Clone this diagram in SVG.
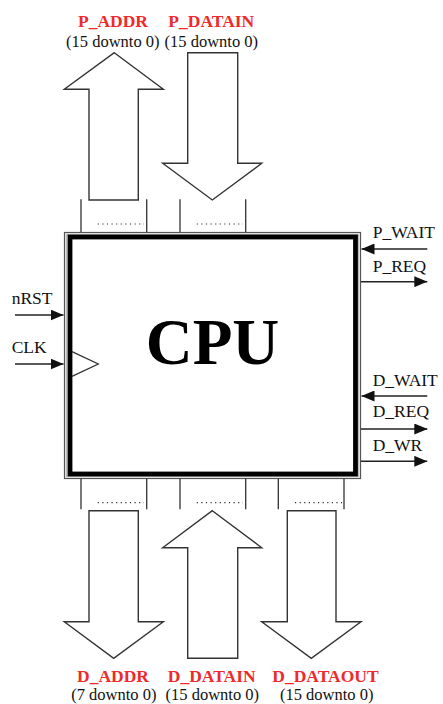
<svg xmlns="http://www.w3.org/2000/svg" width="443" height="704" viewBox="0 0 443 704">
<style>
.lbl{font-family:"Liberation Serif","Times New Roman",serif;font-size:17.5px;fill:#111}
.bus{font-family:"Liberation Serif","Times New Roman",serif;font-size:17.5px;font-weight:bold;fill:#ee2a2a;text-anchor:middle}
.rng{font-family:"Liberation Serif","Times New Roman",serif;font-size:16.5px;fill:#111;text-anchor:middle}
.busarrow{fill:#fff;stroke:#333;stroke-width:1.4;stroke-linejoin:miter}
.wire{stroke:#222;stroke-width:1.4;fill:none}
.brk{stroke:#333;stroke-width:1.3;fill:none}
.dots{stroke:#333;stroke-width:1.2;stroke-dasharray:1.2 3.4;fill:none}
</style>
<defs>
<marker id="ah" viewBox="0 0 13 11" refX="13" refY="5.5" markerWidth="13" markerHeight="11" markerUnits="userSpaceOnUse" orient="auto">
<path d="M0,0 L13,5.5 L0,11 Z" fill="#111"/>
</marker>
</defs>

<g id="cpu">
<rect x="64.5" y="232.5" width="296" height="246" fill="#fff" stroke="#555" stroke-width="1.2"/>
<rect x="66.5" y="234.5" width="292" height="242" fill="none" stroke="#bbb" stroke-width="1.5"/>
<rect x="70" y="237" width="285.5" height="237" fill="#fff" stroke="#000" stroke-width="4.8"/>
<path d="M72,351.7 L98.3,364 L72,376.3" fill="none" stroke="#333" stroke-width="1.3"/>
<text x="212.5" y="364" font-family="Liberation Serif,'Times New Roman',serif" font-size="65" font-weight="bold" text-anchor="middle" fill="#000">CPU</text>
</g>

<g id="connectors">
<g id="top-brackets">
<path class="brk" d="M81,199.3 V232 M146.7,199.3 V232 M180,199.3 V232 M245.7,199.3 V232"/>
<path class="dots" d="M97.7,224 H144 M196.7,224 H243"/>
</g>
<g id="bottom-brackets">
<path class="brk" d="M81,478.5 V509.3 M146.7,478.5 V509.3 M180,478.5 V509.3 M245.7,478.5 V509.3 M278.3,478.5 V509.3 M344,478.5 V509.3"/>
<path class="dots" d="M97.7,502.7 H144 M196.7,502.7 H243 M295,502.7 H342"/>
</g>
<polygon id="arrow-p-addr" class="busarrow" points="114.3,52.7 163.3,89.3 138.3,89.3 138.3,200 89,200 89,89.3 64.3,89.3"/>
<polygon id="arrow-p-datain" class="busarrow" points="187.7,52.7 237.7,52.7 237.7,163.3 261.7,163.3 212.3,200 162.7,163.3 187.7,163.3"/>
<polygon id="arrow-d-addr" class="busarrow" points="89,510.7 138.3,510.7 138.3,621.7 163.3,621.7 113.7,658.3 64.3,621.7 89,621.7"/>
<polygon id="arrow-d-datain" class="busarrow" points="212.3,510.7 261.7,547.7 237.7,547.7 237.7,658.3 187.7,658.3 187.7,547.7 162.7,547.7"/>
<polygon id="arrow-d-dataout" class="busarrow" points="287.3,510.7 336,510.7 336,621.7 361,621.7 311.3,658.3 261.7,621.7 287.3,621.7"/>
<line id="w-nrst" class="wire" x1="15" y1="315" x2="63.5" y2="315" marker-end="url(#ah)"/>
<line id="w-clk" class="wire" x1="15" y1="364" x2="63.5" y2="364" marker-end="url(#ah)"/>
<line id="w-pwait" class="wire" x1="427.3" y1="249" x2="361.5" y2="249" marker-end="url(#ah)"/>
<line id="w-preq" class="wire" x1="361" y1="281.7" x2="427.3" y2="281.7" marker-end="url(#ah)"/>
<line id="w-dwait" class="wire" x1="427.3" y1="396" x2="361.5" y2="396" marker-end="url(#ah)"/>
<line id="w-dreq" class="wire" x1="361" y1="429" x2="427.3" y2="429" marker-end="url(#ah)"/>
<line id="w-dwr" class="wire" x1="361" y1="461.3" x2="427.3" y2="461.3" marker-end="url(#ah)"/>
</g>

<g id="lbl-p-addr"><text class="bus" x="113" y="26.7">P_ADDR</text><text class="rng" x="112.8" y="47.3">(15 downto 0)</text></g>
<g id="lbl-p-datain"><text class="bus" x="211.3" y="26.7">P_DATAIN</text><text class="rng" x="211.3" y="47.3">(15 downto 0)</text></g>
<g id="lbl-d-addr"><text class="bus" x="113" y="681.7">D_ADDR</text><text class="rng" x="113.8" y="699.5">(7 downto 0)</text></g>
<g id="lbl-d-datain"><text class="bus" x="211.7" y="681.7">D_DATAIN</text><text class="rng" x="212.3" y="699.5">(15 downto 0)</text></g>
<g id="lbl-d-dataout"><text class="bus" x="325.5" y="681.7">D_DATAOUT</text><text class="rng" x="326.7" y="699.5">(15 downto 0)</text></g>

<g id="sig-nrst"><text class="lbl" x="11.7" y="304.3">nRST</text></g>
<g id="sig-clk"><text class="lbl" x="11.7" y="353.3">CLK</text></g>
<g id="sig-pwait"><text class="lbl" x="372.7" y="238.3">P_WAIT</text></g>
<g id="sig-preq"><text class="lbl" x="372.7" y="271.7">P_REQ</text></g>
<g id="sig-dwait"><text class="lbl" x="372.7" y="385.7">D_WAIT</text></g>
<g id="sig-dreq"><text class="lbl" x="372.7" y="417.3">D_REQ</text></g>
<g id="sig-dwr"><text class="lbl" x="372.7" y="451">D_WR</text></g>
</svg>
